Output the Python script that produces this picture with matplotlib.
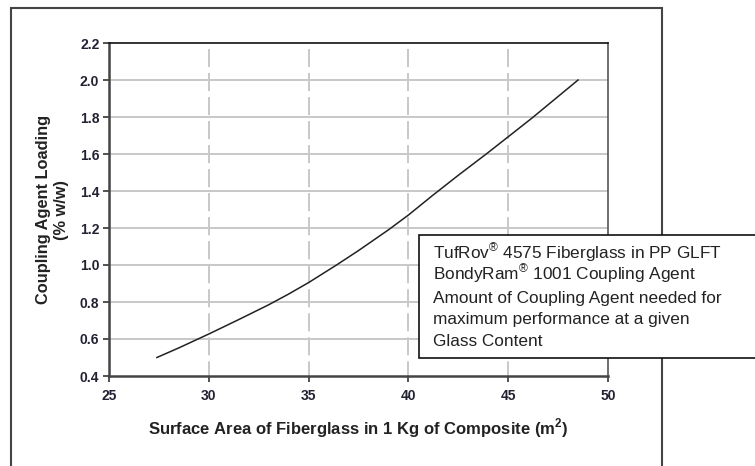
import matplotlib
matplotlib.use('Agg')
import matplotlib.pyplot as plt
from matplotlib.patches import Rectangle

plt.rcParams['font.family'] = ['Liberation Sans', 'DejaVu Sans']
plt.rcParams['mathtext.fontset'] = 'custom'
plt.rcParams['mathtext.rm'] = 'Liberation Sans'
plt.rcParams['mathtext.bf'] = 'Liberation Sans:bold'
plt.rcParams['lines.scale_dashes'] = False

# surface area (m2 per kg composite) vs coupling agent loading (% w/w)
surface_area = [27.4, 28.5, 30, 31.5, 33, 34, 35, 36.4, 37.5, 39, 40,
                41.2, 42.5, 43.9, 45, 46.2, 47.3, 48.5]
loading = [0.50, 0.552, 0.627, 0.705, 0.785, 0.843, 0.905, 1.0, 1.078, 1.19, 1.27,
           1.375, 1.485, 1.60, 1.693, 1.795, 1.893, 2.0]

x_ticks = [25, 30, 35, 40, 45, 50]
y_ticks = [0.4, 0.6, 0.8, 1.0, 1.2, 1.4, 1.6, 1.8, 2.0, 2.2]

note_lines = [r"TufRov$^{\circledR}$ 4575 Fiberglass in PP GLFT",
              r"BondyRam$^{\circledR}$ 1001 Coupling Agent",
              "Amount of Coupling Agent needed for",
              "maximum performance at a given",
              "Glass Content"]

W, H = 755, 466
fig = plt.figure(figsize=(W / 100, H / 100), dpi=100)
ax = fig.add_axes([109 / W, 1 - 376 / H, 499 / W, 333 / H])

# solid horizontal grid, dashed vertical grid
for yv in y_ticks[1:-1]:
    ax.plot([x_ticks[0], x_ticks[-1]], [yv, yv], color='#c8c8c8', lw=1.4, zorder=1)
for xv in x_ticks[1:-1]:
    ax.plot([xv, xv], [y_ticks[-1], y_ticks[0]], color='#c8c8c8', lw=1.4,
            linestyle=(13, (13, 4.3)), zorder=1)

ax.plot(surface_area, loading, color='#222222', lw=1.1, zorder=3)

ax.set_xlim(x_ticks[0], x_ticks[-1])
ax.set_ylim(y_ticks[0], y_ticks[-1])
ax.set_xticks(x_ticks)
ax.set_yticks(y_ticks)
ax.set_xticklabels([str(v) for v in x_ticks])
ax.set_yticklabels(['%.1f' % v for v in y_ticks])
ax.tick_params(direction='out', length=4, width=1.3, color='#444444',
               labelsize=10, labelcolor='#222233', pad=3)
ax.tick_params(axis='x', pad=5)
for lab in ax.get_xticklabels() + ax.get_yticklabels():
    lab.set_fontweight('bold')

for side in ['left', 'bottom']:
    ax.spines[side].set_color('#444444')
    ax.spines[side].set_linewidth(1.8)
ax.spines['top'].set_color('#111111')
ax.spines['top'].set_linewidth(1.2)
ax.spines['right'].set_color('#555555')
ax.spines['right'].set_linewidth(1.2)

ax.set_xlabel('Surface Area of Fiberglass in 1 Kg of Composite (m$^\\mathbf{2}$)',
              fontsize=12, fontweight='bold', color='#222222', labelpad=10)
ax.set_ylabel('Coupling Agent Loading\n(% w/w)', fontsize=11.8,
              fontweight='bold', color='#222222', labelpad=8, linespacing=1.25)

# outer frame around the chart
fig.add_artist(Rectangle((11 / W, -0.1), 651 / W, 1.1 - 8 / H,
                         transform=fig.transFigure, fill=False,
                         edgecolor='#444444', lw=1.5, zorder=4))

# note box
fig.add_artist(Rectangle((419 / W, 1 - 358 / H), 400 / W, 123 / H,
                         transform=fig.transFigure, facecolor='white',
                         edgecolor='#111111', lw=1.2, zorder=5))
for i, line in enumerate(note_lines):
    fig.text(433 / W, 1 - (259 + 21.8 * i) / H, line, fontsize=12.4,
             color='#222222', ha='left', va='baseline', zorder=6)

fig.savefig('out.png', dpi=100)
